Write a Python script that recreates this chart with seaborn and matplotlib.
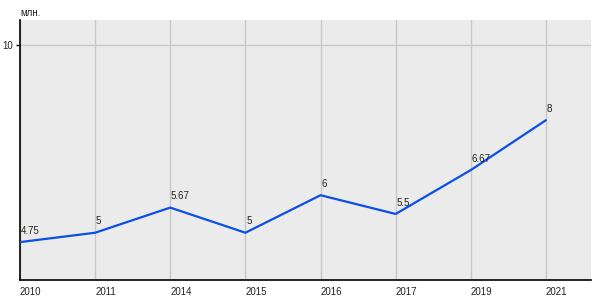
import matplotlib
matplotlib.use("Agg")
import matplotlib.pyplot as plt
import seaborn as sns
import pandas as pd

years = ["2010", "2011", "2014", "2015", "2016", "2017", "2019", "2021"]
values = [4.75, 5, 5.67, 5, 6, 5.5, 6.67, 8]
point_labels = ["4.75", "5", "5.67", "5", "6", "5.5", "6.67", "8"]
y_ticks = [10]
unit_label = "млн."

sns.set_theme(style="white")
plt.rcParams["font.family"] = ["Liberation Sans", "DejaVu Sans"]

df = pd.DataFrame({"year": years, "value": values})

fig = plt.figure(figsize=(6, 3), dpi=100)
ax = fig.add_axes([20 / 600, 1 - 280 / 300, 571 / 600, 260 / 300])
ax.set_facecolor("#ebebeb")

sns.lineplot(data=df, x="year", y="value", ax=ax, color="#0a50e6",
             linewidth=1.6, sort=False, zorder=3)

for i, (v, lab) in enumerate(zip(values, point_labels)):
    ax.annotate(lab, (i, v), xytext=(0.5, 4.5), textcoords="offset points",
                ha="left", va="bottom", fontsize=7, color="#222222", zorder=4)

ax.set_xlim(0, 7.6)
ax.set_ylim(3.74, 10.67)
ax.set_yticks(y_ticks)
ax.set_yticklabels([str(t) for t in y_ticks])
ax.set_xticks(range(len(years)))
ax.set_xticklabels(years, ha="left")

ax.grid(True, axis="both", color="#c8c8c8", linewidth=1)
ax.set_axisbelow(True)

for s in ["top", "right"]:
    ax.spines[s].set_visible(False)
for s in ["left", "bottom"]:
    ax.spines[s].set_color("black")
    ax.spines[s].set_linewidth(1.2)

ax.tick_params(axis="x", length=0, pad=5, labelsize=7, labelcolor="#222222")
ax.tick_params(axis="y", length=3, width=1, pad=2, labelsize=7,
               labelcolor="#222222", left=True, color="black")
ax.set_xlabel("")
ax.set_ylabel("")

fig.text(20 / 600, 1 - 16 / 300, unit_label, fontsize=7, color="#222222",
         ha="left", va="baseline")

fig.savefig("out.png", dpi=100, facecolor="white")
